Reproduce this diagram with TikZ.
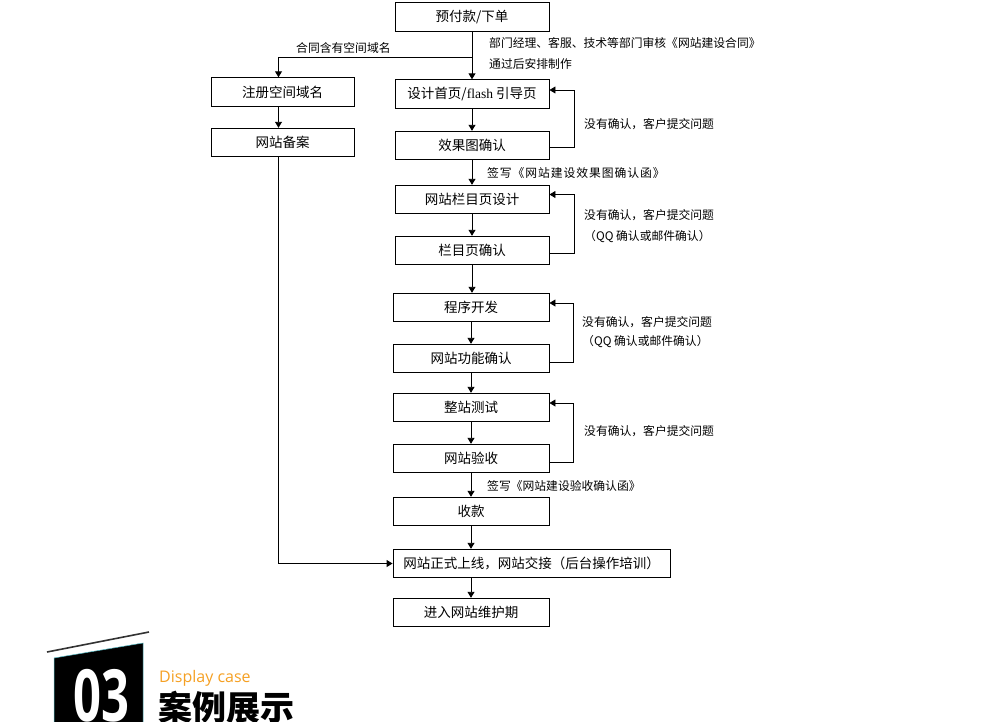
\documentclass[tikz,border=0pt]{standalone}
\usepackage{fontspec}
\usepackage{graphicx}
\setmainfont{Noto Sans CJK SC}
\newfontfamily\serifen{Liberation Serif}
\newfontfamily\latinsans{Open Sans}
\usetikzlibrary{arrows.meta, calc}
\definecolor{caseorange}{RGB}{245,160,35}
\definecolor{logoedge}{RGB}{90,190,200}

\begin{document}
\begin{tikzpicture}[x=1pt, y=-1pt, >={Triangle[length=6pt,width=7pt]},
    box/.style={draw, line width=0.9pt, minimum width=154pt, minimum height=28.5pt, inner sep=0pt, font=\fontsize{13.5}{16}\selectfont},
    note/.style={anchor=west, inner sep=0pt, font=\fontsize{11.8}{14}\selectfont},
    link/.style={->, line width=0.9pt}]
        \clip (0,0) rectangle (1000,721);

        % Boxes
        \node[box] (order) at (472,17) {预付款/下单};
        \node[box, minimum width=143pt] (domain) at (282.5,92) {注册空间域名};
        \node[box, minimum width=143pt] (filing) at (282.5,142.5) {网站备案};
        \node[box] (home) at (472,94) {设计首页/{\serifen flash} 引导页};
        \node[box] (effect) at (472,145.5) {效果图确认};
        \node[box] (column) at (472,199.5) {网站栏目页设计};
        \node[box] (colok) at (472,250.5) {栏目页确认};
        \node[box, minimum width=156pt] (program) at (471,307.5) {程序开发};
        \node[box, minimum width=156pt] (funcok) at (471,358.5) {网站功能确认};
        \node[box, minimum width=156pt] (test) at (471,407.5) {整站测试};
        \node[box, minimum width=156pt] (accept) at (471,458.5) {网站验收};
        \node[box, minimum width=156pt] (payment) at (471,511.5) {收款};
        \node[box, minimum width=277pt] (online) at (531.5,563.5) {网站正式上线，网站交接（后台操作培训）};
        \node[box, minimum width=156pt] (maintain) at (471,612.5) {进入网站维护期};

        % Main flow
        \coordinate (split) at (472,57);
        \draw[link] (order) -- (home);
        \draw[link] (split) -| ([xshift=-4pt]domain.north);
        \draw[link] ([xshift=-4pt]domain.south) -- ([xshift=-4pt]filing.north);
        \draw[link] (home) -- (effect);
        \draw[link] (effect) -- (column);
        \draw[link] (column) -- (colok);
        \draw[link] (colok.south) -- (colok.south |- program.north);
        \draw[link] (program) -- (funcok);
        \draw[link] (funcok) -- (test);
        \draw[link] (test) -- (accept);
        \draw[link] (accept) -- (payment);
        \draw[link] (payment.south) -- (payment.south |- online.north);
        \draw[link] (maintain.north |- online.south) -- (maintain.north);
        \draw[link] ([xshift=-4pt]filing.south) |- (online.west);

        % Feedback loops
        \draw[link] ([yshift=-2pt]effect.east) -- ++(25,0) |- ([yshift=4pt]home.east);
        \draw[link] ([yshift=-2.5pt]colok.east) -- ++(25,0) |- ([yshift=5pt]column.east);
        \draw[link] ([yshift=-3.5pt]funcok.east) -- ++(24,0) |- ([yshift=4.5pt]program.east);
        \draw[link] ([yshift=-3.5pt]accept.east) -- ++(24,0) |- ([yshift=4.5pt]test.east);

        % Labels
        \node[note] (contract) at (296,48) {合同含有空间域名};
        \node[note] (review) at (489,43) {部门经理、客服、技术等部门审核《网站建设合同》};
        \node[note] (start) at (489,64) {通过后安排制作};
        \node[note] (fb1) at (584,124) {没有确认，客户提交问题};
        \node[note] (fb2) at (584,215) {没有确认，客户提交问题};
        \node[note] (fb2b) at (584,237) {（QQ 确认或邮件确认）};
        \node[note] (fb3) at (582,322) {没有确认，客户提交问题};
        \node[note] (fb3b) at (582,342) {（QQ 确认或邮件确认）};
        \node[note] (fb4) at (584,431) {没有确认，客户提交问题};
        \node[note] (sign1) at (487,173) {\addfontfeature{LetterSpace=8}签写《网站建设效果图确认函》};
        \node[note] (sign2) at (487,486) {签写《网站建设验收确认函》};

        % Logo
        \fill[black, draw=logoedge, line width=0.5pt] (54,658) -- (143,643) -- (143,726) -- (54,726) -- cycle;
        \draw[line width=1.6pt, black!80] (47,652) -- (149,632);
        \node[anchor=base, inner sep=0pt, text=white, font=\latinsans\bfseries\fontsize{72}{72}\selectfont] (num) at (101.5,721) {\scalebox{0.68}[1]{03}};
        \node[anchor=base west, inner sep=0pt, text=caseorange, font=\latinsans\fontsize{16}{18}\selectfont] (casesub) at (159,682) {Display case};
        \node[anchor=base west, inner sep=0pt, font=\fontsize{34}{36}\selectfont] (casetitle) at (158,720) {\textbf{案例展示}};
    \end{tikzpicture}
\end{document}
